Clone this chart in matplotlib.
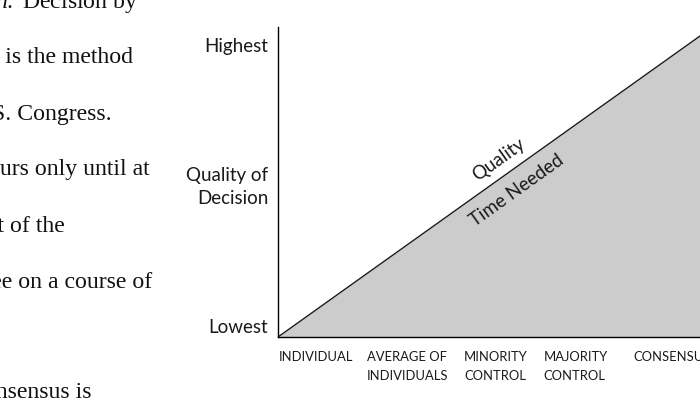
import matplotlib
matplotlib.use("Agg")
import matplotlib.pyplot as plt

plt.rcParams['font.family'] = ['Lato', 'DejaVu Sans']
plt.rcParams['mathtext.fontset'] = 'custom'
plt.rcParams['mathtext.rm'] = 'Liberation Serif'
plt.rcParams['mathtext.it'] = 'Liberation Serif:italic'

# decision methods along the x axis (left edge of each label, axis fraction)
methods = ['INDIVIDUAL', 'AVERAGE OF\nINDIVIDUALS', 'MINORITY\nCONTROL',
           'MAJORITY\nCONTROL', 'CONSENSUS']
method_pos = [0.002, 0.211, 0.441, 0.630, 0.841]

# quality / time needed rises from lowest to highest
trend_x = [0.0, 1.0]
trend_y = [0.0, 0.971]

quality_ticks = [0.039, 0.503, 0.945]
quality_labels = ['Lowest', 'Quality of\nDecision', 'Highest']

# body text of the page, only the right part shows
body_lines = [r'$\mathit{tion.}$ Decision by', 'majority is the method',
              'the U.S. Congress.', 'occurs only until at', 'most of the',
              'agree on a course of', 'Consensus is']
body_right = [138, 133, 112, 150, 65, 152, 92]
body_base = [8, 63, 120, 175, 232, 288, 398]

W, H = 700, 406
fig = plt.figure(figsize=(7.0, 4.06), dpi=100)

for txt, xr, yb in zip(body_lines, body_right, body_base):
    fig.text(xr / W, 1 - yb / H, txt, ha='right', va='baseline',
             fontsize=17.1, family='Liberation Serif', color='#111111')

ax = fig.add_axes([278 / W, (H - 338) / H, 422 / W, 310 / H])
ax.fill_between(trend_x, trend_y, 0, color='#cccccc', lw=0)
ax.plot(trend_x, trend_y, color='#1a1a1a', lw=1.0)
ax.set_xlim(0, 1)
ax.set_ylim(0, 1)

for s in ['top', 'right']:
    ax.spines[s].set_visible(False)
ax.spines['left'].set_linewidth(1.0)
ax.spines['bottom'].set_linewidth(1.0)

ax.set_yticks(quality_ticks)
ax.set_yticklabels(quality_labels, fontsize=13.5, linespacing=1.45,
                   ha='right', multialignment='right')
ax.set_xticks(method_pos)
ax.set_xticklabels(methods, fontsize=9.4, ha='left', va='top',
                   linespacing=1.65)
ax.tick_params(axis='both', length=0, colors='#1a1a1a')
ax.tick_params(axis='y', pad=7)
ax.tick_params(axis='x', pad=9.5)

ax.text(0.524, 0.574, 'Quality', rotation=35.5, rotation_mode='anchor',
        ha='center', va='center', fontsize=13.5, color='#1a1a1a')
ax.text(0.566, 0.477, 'Time Needed', rotation=35.5, rotation_mode='anchor',
        ha='center', va='center', fontsize=13.5, color='#1a1a1a')

fig.savefig('out.png', dpi=100)
